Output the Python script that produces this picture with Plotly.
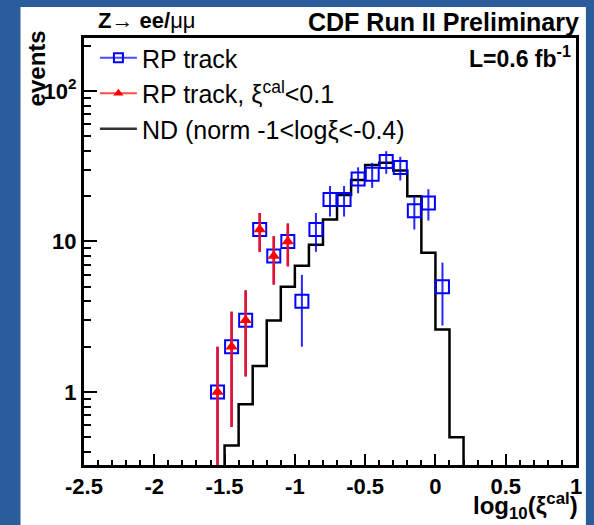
import plotly.graph_objects as go
import numpy as np

# ---------------- data ----------------
# RP track (all), bin centres in log10(xi_cal)
rp_x = [-1.55, -1.45, -1.35, -1.25, -1.15, -1.05, -0.95, -0.85, -0.75, -0.65,
        -0.55, -0.45, -0.35, -0.25, -0.15, -0.05, 0.05]
rp_y = [1, 2, 3, 12, 8, 10, 4, 12, 19, 19, 26, 28, 34, 31, 16, 18, 5]

# RP track with xi_cal < 0.1
rpc_x = [-1.55, -1.45, -1.35, -1.25, -1.15, -1.05]
rpc_y = [1, 2, 3, 12, 8, 10]

# ND histogram (normalised), lower bin edges, bin width 0.1
nd_edges = [-1.6, -1.5, -1.4, -1.3, -1.2, -1.1, -1.0, -0.9, -0.8, -0.7, -0.6,
            -0.5, -0.4, -0.3, -0.2, -0.1, 0.0, 0.1, 0.2]
nd_vals = [0, 0.44, 0.83, 1.49, 2.98, 5.0, 6.9, 9.5, 14.0, 20.4, 25.6,
           32.2, 33.4, 29.6, 20.0, 8.4, 2.6, 0.5, 0]

x_ticks = [-2.5, -2, -1.5, -1, -0.5, 0, 0.5, 1]
x_ticktext = ["-2.5", "-2", "-1.5", "-1", "-0.5", "0", "0.5", "1"]
y_ticks = [1, 10, 100]
y_ticktext = ["1", "10", "10<sup>2</sup>"]

# ---------------- style ----------------
FONT = "Liberation Sans, Arial, Helvetica, sans-serif"
BG = "#2b5c9b"
W, H = 594, 525
ML, MR, MT, MB = 84, 14, 38, 60
x_range = [-2.5, 1.0]
y_range = [np.log10(0.327), np.log10(225)]

floor = 10 ** (y_range[0] - 2)  # below visible range -> drawn to frame bottom
nd_plot = [v if v > 0 else floor for v in nd_vals]

rp_err = list(np.sqrt(rp_y))
rpc_err = list(np.sqrt(rpc_y))

fig = go.Figure()

# ND histogram
fig.add_trace(go.Scatter(
    x=nd_edges, y=nd_plot, mode="lines",
    line=dict(color="black", width=2.5, shape="hv"),
    showlegend=False, hoverinfo="skip"))

# RP track
fig.add_trace(go.Scatter(
    x=rp_x, y=rp_y, mode="markers",
    marker=dict(symbol="square-open", size=13, color="#0000ff",
                line=dict(width=2, color="#0000ff")),
    error_y=dict(type="data", array=rp_err, color="rgba(0,0,255,0.85)",
                 thickness=2, width=0),
    showlegend=False))

# RP track xi<0.1
fig.add_trace(go.Scatter(
    x=rpc_x, y=rpc_y, mode="markers",
    marker=dict(symbol="triangle-up", size=11, color="#ff0000",
                line=dict(width=0)),
    error_y=dict(type="data", array=rpc_err, color="#e8102c",
                 thickness=2.6, width=0),
    showlegend=False))

# legend entries
fig.add_trace(go.Scatter(
    x=[None], y=[None], mode="lines+markers", name="RP track",
    line=dict(color="rgba(0,0,255,0.7)", width=2),
    marker=dict(symbol="square-open", size=9, color="#0000ff",
                line=dict(width=2, color="#0000ff"))))
fig.add_trace(go.Scatter(
    x=[None], y=[None], mode="lines+markers",
    name="RP track, ξ<sup>cal</sup><0.1",
    line=dict(color="rgba(255,0,0,0.7)", width=2),
    marker=dict(symbol="triangle-up", size=9, color="#ff0000")))
fig.add_trace(go.Scatter(
    x=[None], y=[None], mode="lines",
    name="ND (norm -1<logξ<-0.4)",
    line=dict(color="#333333", width=2.5)))

pw = W - ML - MR
ph = H - MT - MB


def px(xp):
    return (xp - ML) / pw


def py(yp):
    return (H - MB - yp) / ph


# white panel
fig.add_shape(type="rect", xref="paper", yref="paper",
              x0=px(20), x1=px(590), y0=py(525), y1=py(7),
              fillcolor="white", line=dict(width=0), layer="below")


def f(size):
    return dict(family=FONT, size=size, color="black")


fig.add_annotation(text="<b>Z→ ee/</b>μμ", xref="paper", yref="paper",
                   x=px(96), y=py(21), xanchor="left", yanchor="middle",
                   showarrow=False, font=f(22))
fig.add_annotation(text="<b>CDF Run II Preliminary</b>", xref="paper", yref="paper",
                   x=px(585), y=py(22), xanchor="right", yanchor="middle",
                   showarrow=False, font=f(25))
fig.add_annotation(text="<b>L=0.6 fb<sup>-1</sup></b>", xref="paper", yref="paper",
                   x=px(577), y=py(57), xanchor="right", yanchor="middle",
                   showarrow=False, font=f(23))
fig.add_annotation(text="<b>events</b>", xref="paper", yref="paper",
                   x=px(37), y=py(28), xanchor="center", yanchor="top",
                   textangle=-90, showarrow=False, font=f(24))
fig.add_annotation(text="<b>log<sub>10</sub>(ξ<sup>cal</sup>)</b>", xref="paper", yref="paper",
                   x=px(584), y=py(506), xanchor="right", yanchor="middle",
                   showarrow=False, font=f(24))

fig.update_layout(
    width=W, height=H,
    margin=dict(l=ML, r=MR, t=MT, b=MB, pad=0),
    paper_bgcolor=BG, plot_bgcolor="white",
    font=dict(family=FONT, color="black"),
    showlegend=True,
    legend=dict(x=px(95), y=py(35), xanchor="left", yanchor="top",
                bgcolor="rgba(255,255,255,0)", borderwidth=0,
                font=dict(family=FONT, size=25, color="black"),
                itemwidth=37, tracegroupgap=0),
    xaxis=dict(range=x_range, showgrid=False, zeroline=False,
               showline=True, linecolor="black", linewidth=3, mirror=True,
               ticks="inside", ticklen=11, tickwidth=2, tickcolor="black",
               tickmode="array", tickvals=x_ticks, ticktext=x_ticktext,
               tickfont=dict(family=FONT, size=22, color="black", weight="bold"),
               minor=dict(ticks="inside", ticklen=5, tickwidth=2, tickcolor="black",
                          dtick=0.1, tick0=-2.5, showgrid=False)),
    yaxis=dict(type="log", range=y_range, showgrid=False, zeroline=False,
               showline=True, linecolor="black", linewidth=3, mirror=True,
               ticks="inside", ticklen=13, tickwidth=2, tickcolor="black",
               tickmode="array", tickvals=y_ticks, ticktext=y_ticktext,
               tickfont=dict(family=FONT, size=22, color="black", weight="bold"),
               minor=dict(ticks="inside", ticklen=7, tickwidth=2, tickcolor="black",
                          tickmode="array",
                          tickvals=[0.4, 0.5, 0.6, 0.7, 0.8, 0.9,
                                    2, 3, 4, 5, 6, 7, 8, 9,
                                    20, 30, 40, 50, 60, 70, 80, 90, 200],
                          showgrid=False)),
)

fig.write_html("out.html")
